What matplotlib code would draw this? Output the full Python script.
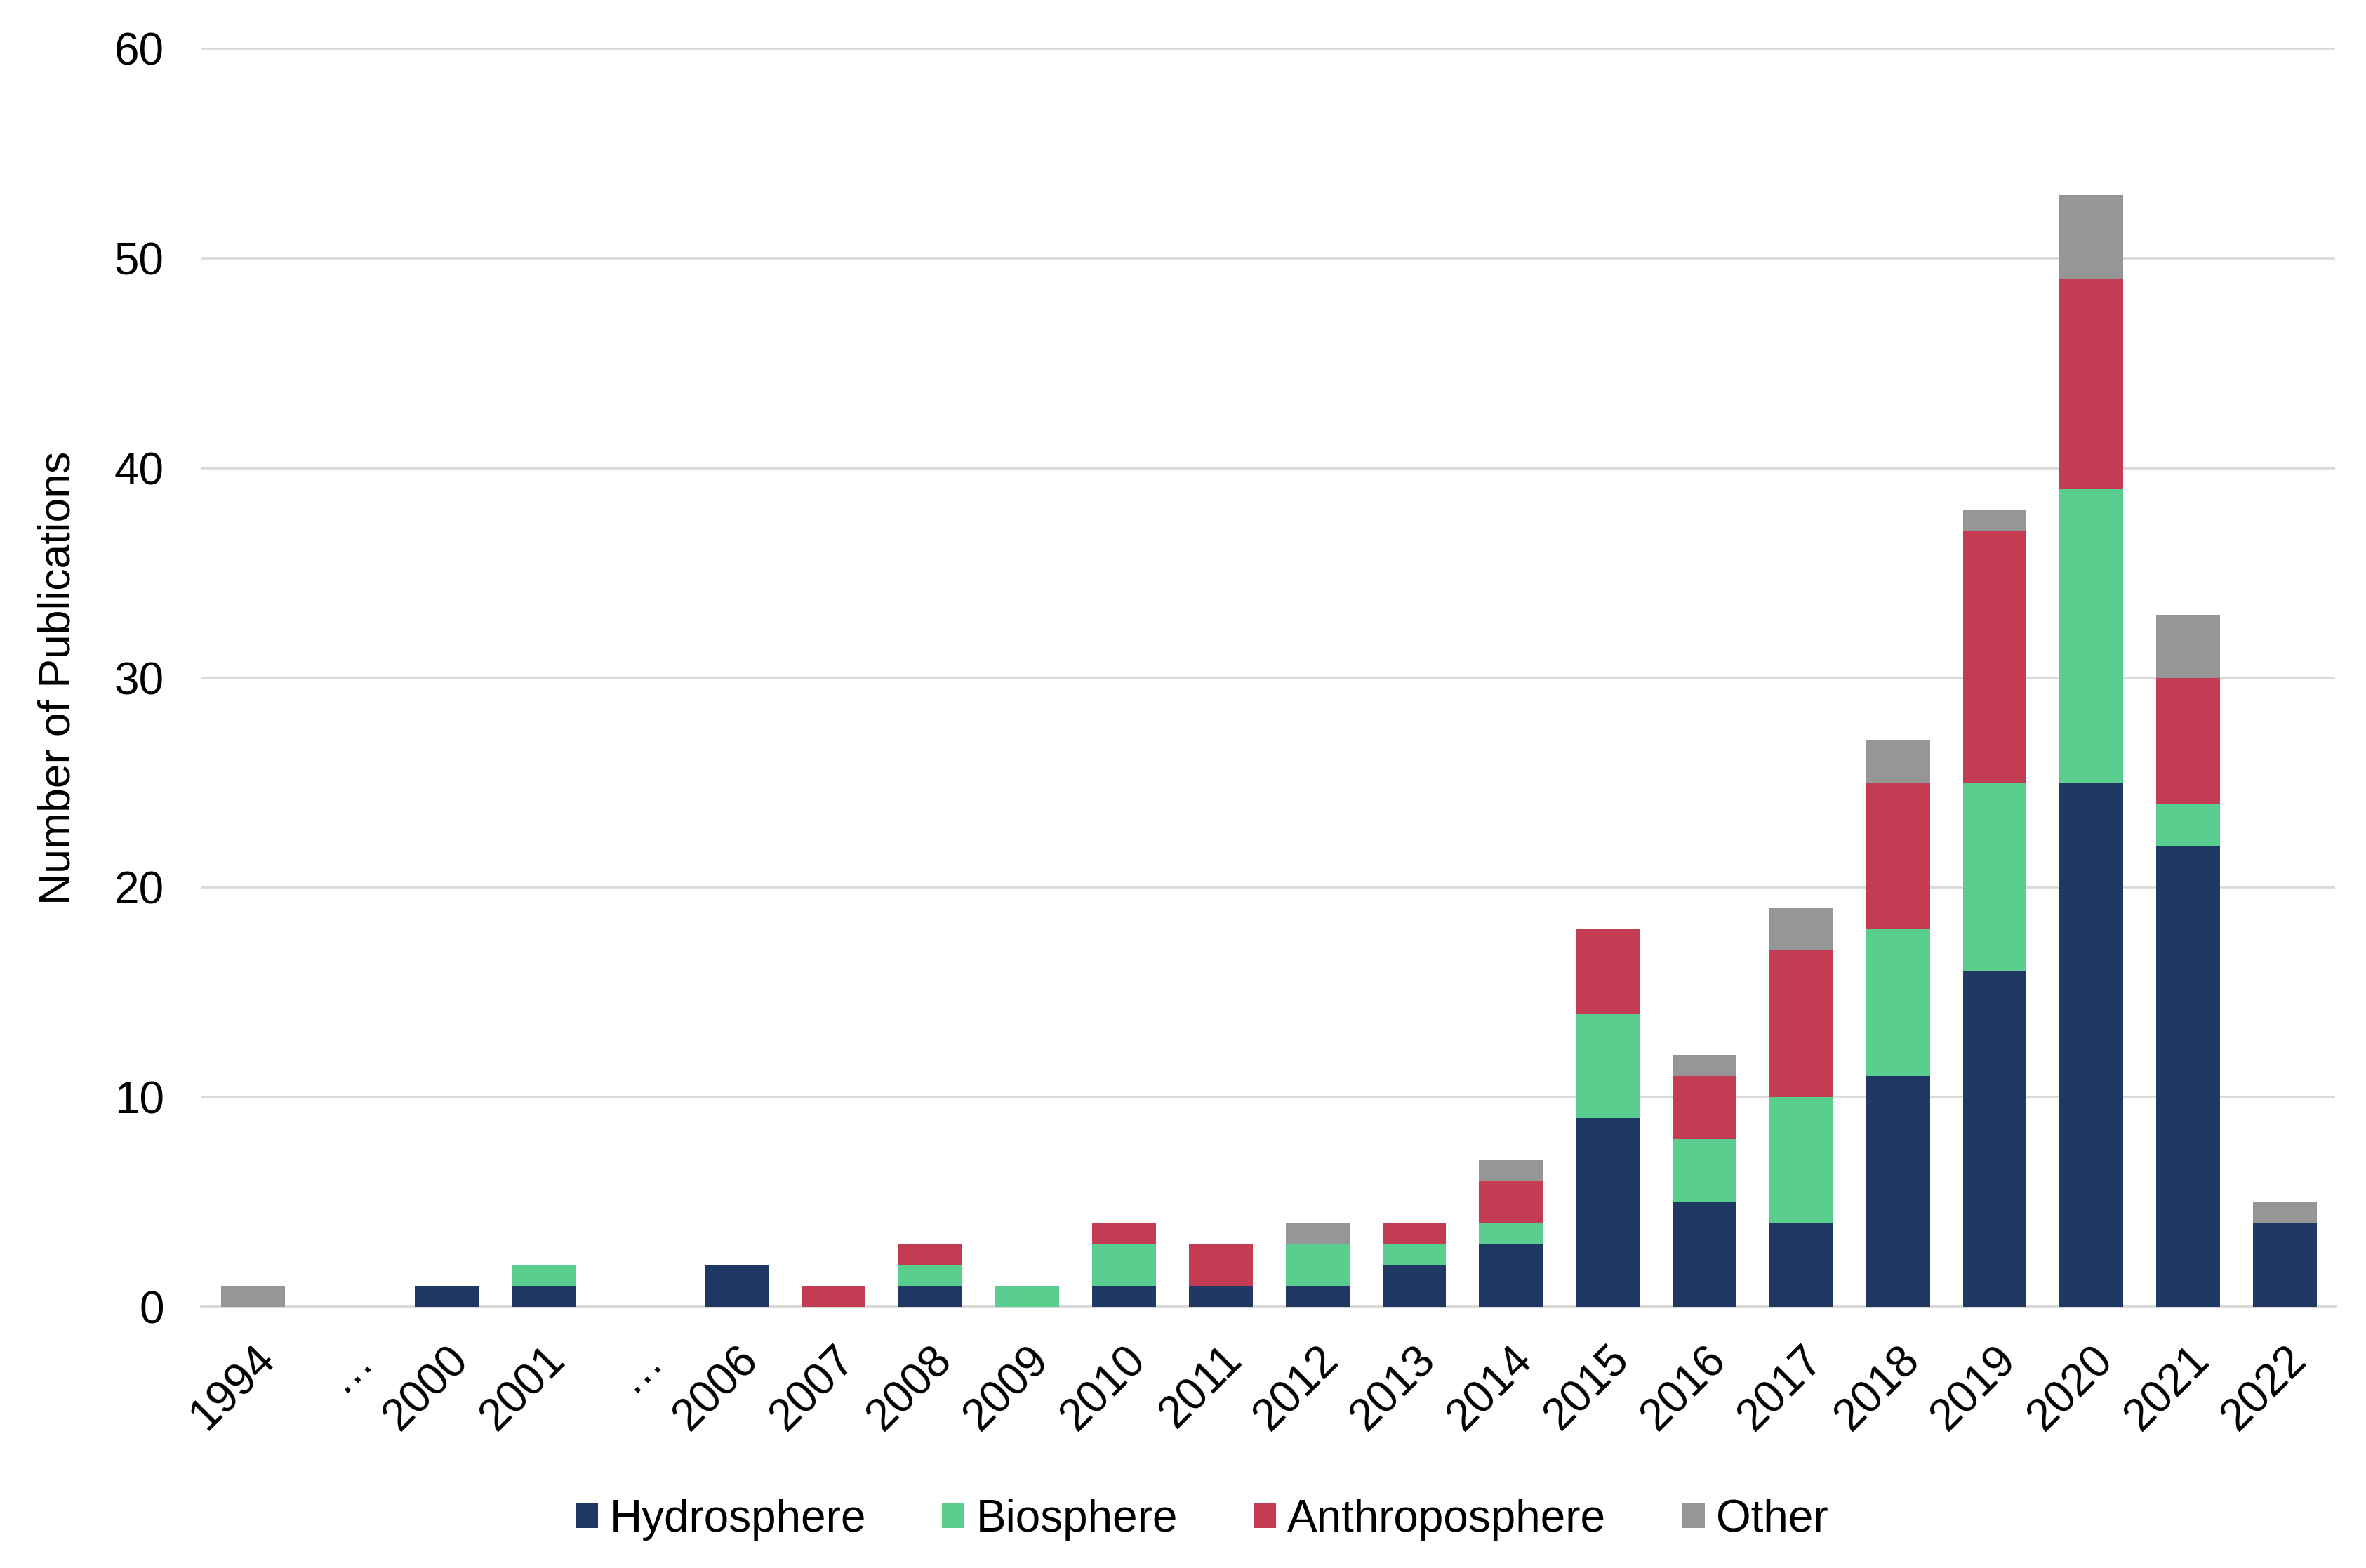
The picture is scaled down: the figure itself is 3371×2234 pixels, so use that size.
import numpy as np
import matplotlib
matplotlib.use('Agg')
import matplotlib.pyplot as plt

plt.rcParams['font.family'] = ['Liberation Sans', 'DejaVu Sans']

# Data
years = ['1994', '…', '2000', '2001', '…', '2006', '2007', '2008', '2009', '2010',
         '2011', '2012', '2013', '2014', '2015', '2016', '2017', '2018', '2019',
         '2020', '2021', '2022']
hydrosphere = [0, 0, 1, 1, 0, 2, 0, 1, 0, 1, 1, 1, 2, 3, 9, 5, 4, 11, 16, 25, 22, 4]
biosphere = [0, 0, 0, 1, 0, 0, 0, 1, 1, 2, 0, 2, 1, 1, 5, 3, 6, 7, 9, 14, 2, 0]
anthroposphere = [0, 0, 0, 0, 0, 0, 1, 1, 0, 1, 2, 0, 1, 2, 4, 3, 7, 7, 12, 10, 6, 0]
other = [1, 0, 0, 0, 0, 0, 0, 0, 0, 0, 0, 1, 0, 1, 0, 1, 2, 2, 1, 4, 3, 1]

series = [
    ('Hydrosphere', hydrosphere, '#203864'),
    ('Biosphere', biosphere, '#59CE8F'),
    ('Anthroposphere', anthroposphere, '#C33C54'),
    ('Other', other, '#969696'),
]

fig = plt.figure(figsize=(16.855, 11.17), dpi=200)
ax = fig.add_axes([0.085, 0.1665, 0.902, 0.8025])

x = np.arange(len(years))
bottom = np.zeros(len(years))
for name, vals, color in series:
    vals = np.array(vals, dtype=float)
    ax.bar(x, vals, bottom=bottom, width=0.66, color=color, label=name, zorder=3)
    bottom += vals

ax.set_xlim(-0.54, len(years) - 0.48)
ax.set_ylim(0, 60)
ax.set_yticks(range(0, 61, 10))
ax.grid(axis='y', color='#D9D9D9', linewidth=1.3, zorder=0)
for s in ['top', 'right', 'left']:
    ax.spines[s].set_visible(False)
ax.spines['bottom'].set_color('#D9D9D9')
ax.spines['bottom'].set_linewidth(1.3)
ax.tick_params(axis='both', length=0, labelsize=23)
ax.tick_params(axis='y', pad=19)
ax.set_xticks(x)
ax.set_xticklabels(years, rotation=45, ha='right', rotation_mode='anchor')
ax.tick_params(axis='x', pad=16)
ax.set_ylabel('Number of Publications', fontsize=22.5, labelpad=18)

fig.legend(loc='center', bbox_to_anchor=(0.508, 0.031), ncol=4, frameon=False,
           fontsize=23, handlelength=0.5, handleheight=0.5, handletextpad=0.25,
           columnspacing=1.7)

plt.savefig('out.png', dpi=200)
